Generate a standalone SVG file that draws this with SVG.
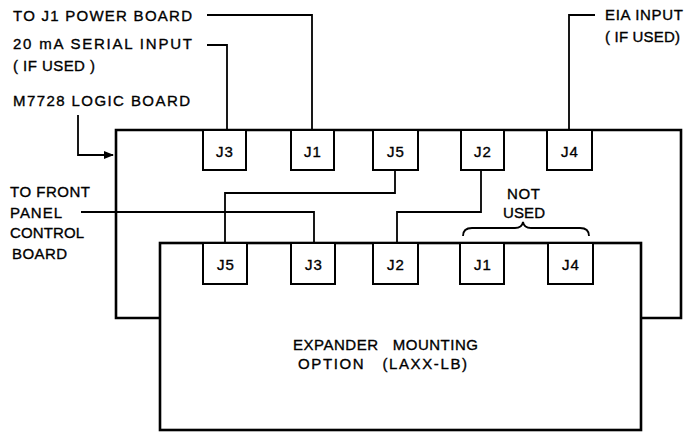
<svg xmlns="http://www.w3.org/2000/svg" width="695" height="434" viewBox="0 0 695 434">
<defs>
<style>
text{font-family:"Liberation Sans","DejaVu Sans",sans-serif;font-size:15px;fill:#000;stroke:#000;stroke-width:0.35}
.board{fill:none;stroke:#000;stroke-width:2.6}
.conn{fill:#fff;stroke:#000;stroke-width:2}
.wire{fill:none;stroke:#000;stroke-width:1.8}
.lbl{text-anchor:middle;font-size:15px;letter-spacing:1px}
</style>
<marker id="ah" markerWidth="10" markerHeight="8" refX="9" refY="4" orient="auto" markerUnits="userSpaceOnUse">
<path d="M0,0 L10,4 L0,8 Z" fill="#000"/>
</marker>
</defs>
<rect width="695" height="434" fill="#fff"/>
<g id="connectors">
<polyline class="wire" points="207,15 312,15 312,130"/>
<polyline class="wire" points="207,45 227,45 227,130"/>
<polyline class="wire" points="595,15 569,15 569,130"/>
<polyline class="wire" points="78,115 78,155 113,155" marker-end="url(#ah)"/>
<polyline class="wire" points="395,170 395,193 225,193 225,243"/>
<polyline class="wire" points="81,212 314,212 314,243"/>
<polyline class="wire" points="481,170 481,212 397,212 397,243"/>
<path class="wire" d="M463,236 Q463,228 472,228 L515,228 Q522,228 523,222 Q524,228 531,228 L580,228 Q589,228 589,236"/>
</g>
<g id="logic-board">
<polyline class="board" points="160,318 116,318 116,130 681,130 681,318 641,318"/>
</g>
<g id="expander">
<rect class="board" x="160" y="243" width="481" height="187"/>
<text x="293" y="350" textLength="185" lengthAdjust="spacing" xml:space="preserve">EXPANDER   MOUNTING</text>
<text x="298" y="369" textLength="169" lengthAdjust="spacing" xml:space="preserve">OPTION   (LAXX-LB)</text>
</g>
<g id="lb-j3"><rect class="conn" x="203" y="130" width="43" height="40"/><text class="lbl" x="225" y="157">J3</text></g>
<g id="lb-j1"><rect class="conn" x="291" y="130" width="43" height="40"/><text class="lbl" x="313" y="157">J1</text></g>
<g id="lb-j5"><rect class="conn" x="373" y="130" width="45" height="40"/><text class="lbl" x="396" y="157">J5</text></g>
<g id="lb-j2"><rect class="conn" x="461" y="130" width="43" height="40"/><text class="lbl" x="483" y="157">J2</text></g>
<g id="lb-j4"><rect class="conn" x="547" y="130" width="45" height="40"/><text class="lbl" x="570" y="157">J4</text></g>
<g id="ex-j5"><rect class="conn" x="203" y="243" width="44" height="41"/><text class="lbl" x="226" y="270">J5</text></g>
<g id="ex-j3"><rect class="conn" x="291" y="243" width="44" height="41"/><text class="lbl" x="314" y="270">J3</text></g>
<g id="ex-j2"><rect class="conn" x="373" y="243" width="45" height="41"/><text class="lbl" x="396" y="270">J2</text></g>
<g id="ex-j1"><rect class="conn" x="460" y="243" width="44" height="41"/><text class="lbl" x="483" y="270">J1</text></g>
<g id="ex-j4"><rect class="conn" x="548" y="243" width="45" height="41"/><text class="lbl" x="571" y="270">J4</text></g>
<g id="labels">
<text x="13" y="21" textLength="179" lengthAdjust="spacing">TO J1 POWER BOARD</text>
<text x="13" y="49" textLength="179" lengthAdjust="spacing">20 mA SERIAL INPUT</text>
<text x="13" y="71" textLength="82" lengthAdjust="spacing">( IF USED )</text>
<text x="13" y="106" textLength="177" lengthAdjust="spacing">M7728 LOGIC BOARD</text>
<text x="605" y="20" textLength="78" lengthAdjust="spacing">EIA INPUT</text>
<text x="605" y="42" textLength="75" lengthAdjust="spacing">( IF USED)</text>
<text x="10" y="197" textLength="80" lengthAdjust="spacing">TO FRONT</text>
<text x="10" y="218" textLength="52" lengthAdjust="spacing">PANEL</text>
<text x="10" y="238" textLength="74" lengthAdjust="spacing">CONTROL</text>
<text x="12" y="259" textLength="55" lengthAdjust="spacing">BOARD</text>
<text x="507" y="199" textLength="33" lengthAdjust="spacing">NOT</text>
<text x="503" y="218" textLength="42" lengthAdjust="spacing">USED</text>
</g>
</svg>
